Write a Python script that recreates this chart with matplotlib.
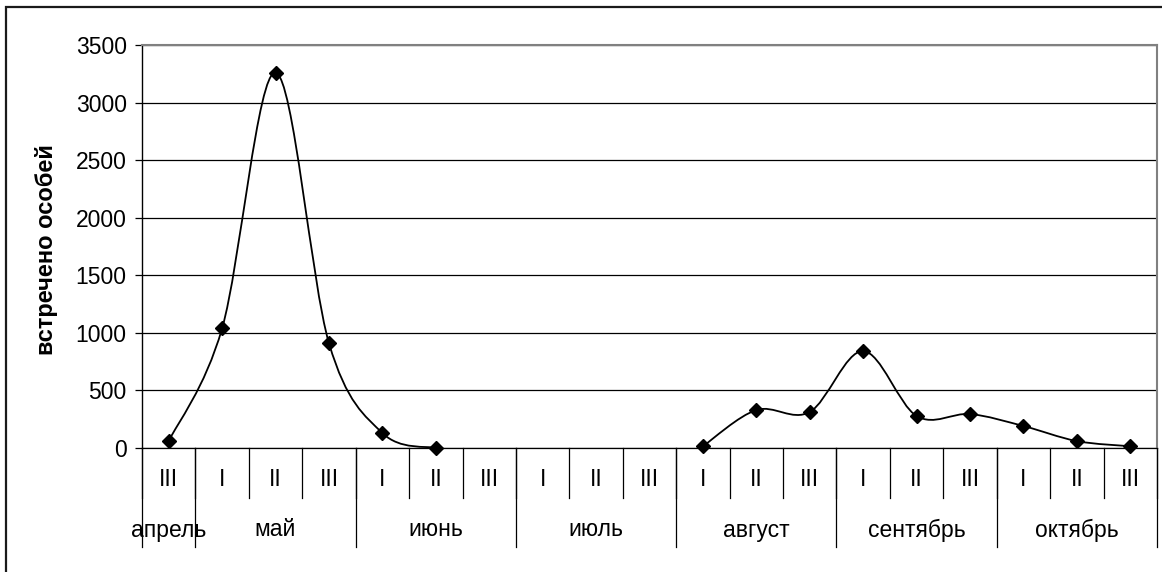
import numpy as np
import matplotlib
matplotlib.use("Agg")
import matplotlib.pyplot as plt
from matplotlib.path import Path
from matplotlib.patches import PathPatch, Rectangle

plt.rcParams['font.family'] = ['Liberation Sans', 'DejaVu Sans']

# decades (I, II, III) for each category, from april III to october III
decades = ['III',
           'I', 'II', 'III',
           'I', 'II', 'III',
           'I', 'II', 'III',
           'I', 'II', 'III',
           'I', 'II', 'III',
           'I', 'II', 'III']
months = ['апрель', 'май', 'июнь', 'июль', 'август', 'сентябрь', 'октябрь']
month_sizes = [1, 3, 3, 3, 3, 3, 3]
counts = [60, 1040, 3260, 910, 130, 0, np.nan,
          np.nan, np.nan, np.nan,
          15, 330, 313, 842, 278, 295, 191, 60, 15]
yticks = [0, 500, 1000, 1500, 2000, 2500, 3000, 3500]


def smooth_path(xs, ys):
    # excel-like smoothed line: bezier segments with catmull-rom control points
    verts = [(xs[0], ys[0])]
    codes = [Path.MOVETO]
    n = len(xs)
    for i in range(n - 1):
        a = i - 1 if i > 0 else i
        d = i + 2 if i + 2 < n else i + 1
        c1 = (xs[i] + (xs[i + 1] - xs[a]) / 6, ys[i] + (ys[i + 1] - ys[a]) / 6)
        c2 = (xs[i + 1] - (xs[d] - xs[i]) / 6, ys[i + 1] - (ys[d] - ys[i]) / 6)
        verts += [c1, c2, (xs[i + 1], ys[i + 1])]
        codes += [Path.CURVE4] * 3
    return Path(verts, codes)


W, H = 1162, 572
fig = plt.figure(figsize=(W / 100, H / 100), dpi=100)
ax = fig.add_axes([142 / W, 1 - 448 / H, (1157 - 142) / W, (448 - 45) / H])

x = np.arange(len(counts))
y = np.array(counts, dtype=float)

# draw each continuous run of values as a smooth curve
ok = ~np.isnan(y)
i = 0
while i < len(y):
    if ok[i]:
        j = i
        while j + 1 < len(y) and ok[j + 1]:
            j += 1
        if j > i:
            ax.add_patch(PathPatch(smooth_path(x[i:j + 1], y[i:j + 1]),
                                   fill=False, edgecolor='black', lw=1.3, zorder=3))
        i = j + 1
    else:
        i += 1

ax.plot(x[ok], y[ok], linestyle='none', marker='D', markersize=7,
        color='black', zorder=4, clip_on=False)

ax.set_xlim(-0.5, len(counts) - 0.5)
ax.set_ylim(0, 3500)
ax.set_yticks(yticks)
ax.yaxis.grid(True, color='black', lw=0.9)
ax.set_axisbelow(True)
ax.tick_params(axis='y', direction='out', length=5, width=0.9, pad=6, labelsize=16.5)
ax.set_xticks([])

for s in ['top', 'right']:
    ax.spines[s].set_color('#808080')
    ax.spines[s].set_linewidth(1.5)
ax.spines['left'].set_linewidth(1.0)
ax.spines['bottom'].set_linewidth(0.9)

# two-level category axis below the plot
trans = ax.get_xaxis_transform()
sub_drop = -50 / 403
month_drop = -99 / 403
for k in range(len(counts) + 1):
    ax.plot([k - 0.5, k - 0.5], [0, sub_drop], transform=trans,
            color='black', lw=0.9, clip_on=False)
for k, lab in enumerate(decades):
    ax.text(k, -32 / 403, lab, transform=trans, ha='center', va='center', fontsize=16.5)

start = 0
for m, size in zip(months, month_sizes):
    ax.plot([start - 0.5, start - 0.5], [0, month_drop], transform=trans,
            color='black', lw=0.9, clip_on=False)
    ax.text(start + (size - 1) / 2, -82 / 403, m, transform=trans,
            ha='center', va='center', fontsize=16.5)
    start += size
ax.plot([start - 0.5, start - 0.5], [0, month_drop], transform=trans,
        color='black', lw=0.9, clip_on=False)

fig.text(47 / W, 1 - 250 / H, 'встречено особей', rotation=90,
         ha='center', va='center', fontsize=17, fontweight='bold')

# chart area border (cut off at right and bottom)
fig.patches.append(Rectangle((6 / W, -0.1), 2, 1.1 - 7 / H, transform=fig.transFigure,
                             fill=False, edgecolor='#1a1a1a', lw=1.6))

fig.savefig('out.png', dpi=100)
